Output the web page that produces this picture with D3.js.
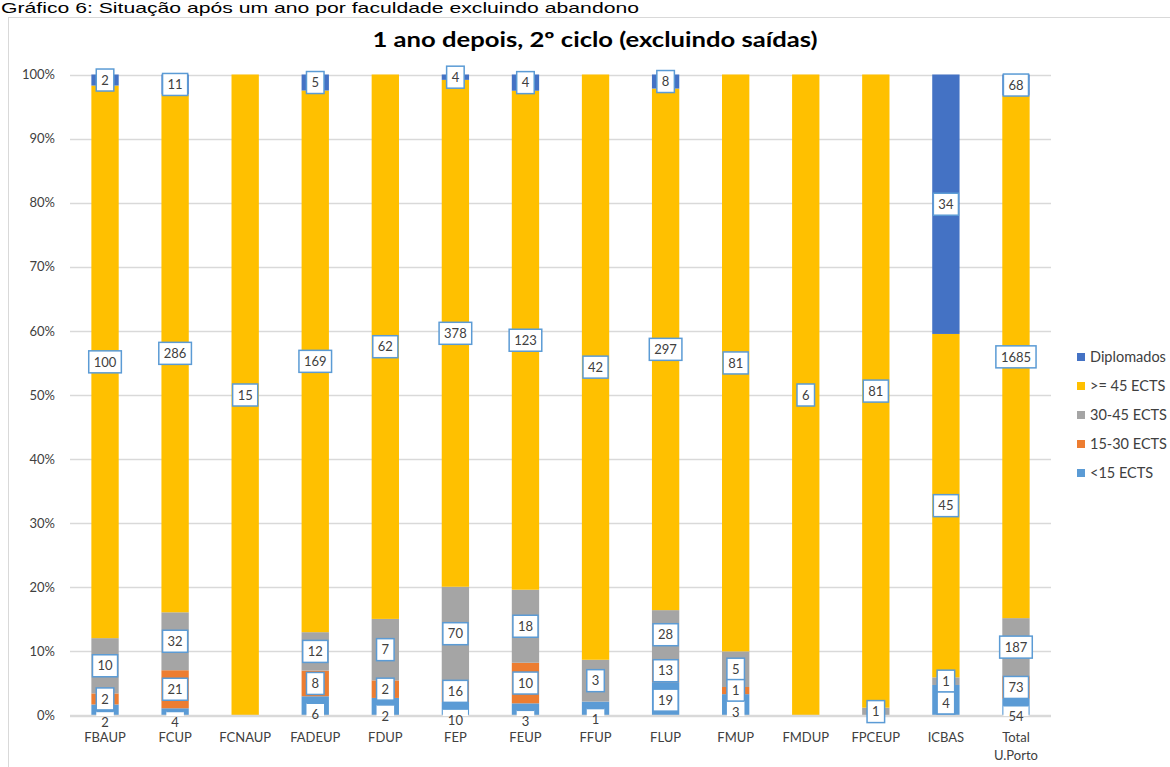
<!DOCTYPE html>
<html>
<head>
<meta charset="utf-8">
<script src="https://cdn.jsdelivr.net/npm/d3@7"></script>
<style>
body{margin:0;background:#fff;overflow:hidden}
</style>
</head>
<body>
<script>
// faculdades e contagens por situação
var faculdades = ["FBAUP","FCUP","FCNAUP","FADEUP","FDUP","FEP","FEUP","FFUP","FLUP","FMUP","FMDUP","FPCEUP","ICBAS","Total U.Porto"];
var menos15   = [2, 4, 0, 6, 2, 10, 3, 1, 19, 3, 0, 0, 4, 54];
var ects15a30 = [2, 21, 0, 8, 2, 16, 10, 0, 13, 1, 0, 0, 0, 73];
var ects30a45 = [10, 32, 0, 12, 7, 70, 18, 3, 28, 5, 0, 1, 1, 187];
var mais45    = [100, 286, 15, 169, 62, 378, 123, 42, 297, 81, 6, 81, 45, 1685];
var diplomados = [2, 11, 0, 5, 0, 4, 4, 0, 8, 0, 0, 0, 34, 68];
var series = ["<15 ECTS","15-30 ECTS","30-45 ECTS",">= 45 ECTS","Diplomados"];
var cores = ["#5b9bd5","#ed7d31","#a5a5a5","#ffc000","#4472c4"];
var yTicks = [0,0.1,0.2,0.3,0.4,0.5,0.6,0.7,0.8,0.9,1];

function ready(fn){
  if (document.readyState != 'loading'){ fn(); }
  else { document.addEventListener('DOMContentLoaded', fn); }
}
ready(init);

function init(){
  var w = 1170, h = 767;
  var fonte = "Lato, 'Open Sans', sans-serif";

  var svg = d3.select("body").append("svg")
              .attr("width", w).attr("height", h);

  // legenda do documento
  svg.append("text")
     .attr("x", 1).attr("y", 13)
     .attr("font-family", "'Liberation Sans', Arial, sans-serif")
     .attr("font-size", 14.5)
     .attr("fill", "#000")
     .attr("textLength", 638).attr("lengthAdjust", "spacingAndGlyphs")
     .text("Gráfico 6: Situação após um ano por faculdade excluindo abandono");

  // moldura do gráfico
  svg.append("rect")
     .attr("x", 8.5).attr("y", 17.5)
     .attr("width", 1200).attr("height", 800)
     .attr("fill", "#fff").attr("stroke", "#d9d9d9");

  svg.append("text")
     .attr("x", 595).attr("y", 47)
     .attr("text-anchor", "middle")
     .attr("font-family", fonte)
     .attr("font-weight", "bold")
     .attr("font-size", 21)
     .attr("fill", "#000")
     .attr("textLength", 445).attr("lengthAdjust", "spacingAndGlyphs")
     .text("1 ano depois, 2º ciclo (excluindo saídas)");

  var x = d3.scaleBand().domain(faculdades).range([70, 1051])
            .paddingInner(0.61).paddingOuter(0.305);
  var y = d3.scaleLinear().domain([0,1]).range([715.5, 74.5]);

  // grelha
  svg.append("g").selectAll("line").data(yTicks).enter().append("line")
     .attr("x1", 70).attr("x2", 1051)
     .attr("y1", d => Math.round(y(d)) + 0.5).attr("y2", d => Math.round(y(d)) + 0.5)
     .attr("stroke", "#d9d9d9").attr("stroke-width", 1.3);

  var yAxis = svg.append("g").attr("transform", "translate(70,0)")
     .call(d3.axisLeft(y).tickValues(yTicks).tickFormat(d3.format(".0%")).tickSize(0).tickPadding(15));
  yAxis.select(".domain").remove();
  yAxis.selectAll("text").attr("font-family", fonte).attr("font-size", 13).attr("fill", "#404040");

  // tabela para o stack
  var tabela = faculdades.map(function(f, i){
    return {fac: f, "<15 ECTS": menos15[i], "15-30 ECTS": ects15a30[i], "30-45 ECTS": ects30a45[i],
            ">= 45 ECTS": mais45[i], "Diplomados": diplomados[i]};
  });
  var pilha = d3.stack().keys(series).offset(d3.stackOffsetExpand)(tabela);

  var gBars = svg.append("g");
  gBars.selectAll("g").data(pilha).enter().append("g")
     .attr("fill", (d,i) => cores[i])
     .selectAll("rect").data(d => d).enter().append("rect")
     .attr("x", d => x(d.data.fac))
     .attr("width", x.bandwidth())
     .attr("y", d => y(d[1]))
     .attr("height", d => Math.max(0, y(d[0]) - y(d[1])));

  // eixo x
  svg.append("line").attr("x1", 70).attr("x2", 1051)
     .attr("y1", 715.5).attr("y2", 715.5).attr("stroke", "#d9d9d9").attr("stroke-width", 1.3);

  var xAxis = svg.append("g").attr("transform", "translate(0,715.5)")
     .call(d3.axisBottom(x).tickSize(0).tickFormat(""));
  xAxis.select(".domain").remove();
  xAxis.selectAll(".tick").each(function(d){
    var partes = d.split(" ");
    var t = d3.select(this).append("text")
       .attr("font-family", fonte).attr("font-size", 13).attr("fill", "#404040")
       .attr("text-anchor", "middle");
    partes.forEach(function(p, k){
      t.append("tspan").attr("x", 0).attr("y", 26 + k * 18).text(p);
    });
  });

  // rótulos de dados
  var rotulos = [];
  faculdades.forEach(function(f, i){
    var prev = null;
    for (var s = series.length - 1; s >= 0; s--){
      var seg = pilha[s][i];
      var v = seg.data[series[s]];
      if (!v) continue;
      var y0 = y(seg[0]), y1 = y(seg[1]);
      var cy = (y0 + y1) / 2;
      if (s == 0){
        var hh = y0 - y1;
        cy = Math.max(cy, Math.min(y(0) + 7, y(0) + 18 - hh));
      }
      if (prev !== null) cy = Math.max(cy, prev + 21);
      prev = cy;
      rotulos.push({fac: f, v: v, cy: cy, base: s == 0});
    }
  });

  var gLab = svg.append("g").selectAll("g").data(rotulos).enter().append("g")
     .attr("transform", d => "translate(" + (x(d.fac) + x.bandwidth() / 2) + "," + d.cy + ")");
  var caixas = gLab.append("rect").attr("fill", "#fff").attr("stroke", "#5b9bd5").attr("stroke-width", 1.5);
  var textos = gLab.append("text")
     .attr("text-anchor", "middle").attr("dy", "0.36em")
     .attr("font-family", fonte).attr("font-size", 13).attr("fill", "#404040")
     .text(d => d.v);
  textos.each(function(d){ d.tw = this.getComputedTextLength(); });
  caixas.attr("x", d => -(d.tw / 2 + 5)).attr("width", d => d.tw + 10)
        .attr("y", -11).attr("height", 22);
  // caixas da série de base ficam cortadas pela linha do eixo
  caixas.filter(d => d.base).each(function(d){
    var alt = Math.max(0, Math.min(22, 716 - d.cy + 11));
    d3.select(this).attr("height", alt)
      .attr("stroke-dasharray", alt < 22 ? (d.tw + 10) + "," + (2 * alt + d.tw + 10) + ",0" : null);
  });

  // legenda
  var leg = svg.append("g").selectAll("g").data(series.slice().reverse()).enter().append("g")
     .attr("transform", (d,i) => "translate(1077," + (357 + i * 29) + ")");
  leg.append("rect").attr("x", 0).attr("y", -4).attr("width", 8).attr("height", 8)
     .attr("fill", d => cores[series.indexOf(d)]);
  leg.append("text").attr("x", 13).attr("dy", "0.35em")
     .attr("font-family", fonte).attr("font-size", 14.5).attr("fill", "#404040")
     .text(d => d);
}
</script>
</body>
</html>
